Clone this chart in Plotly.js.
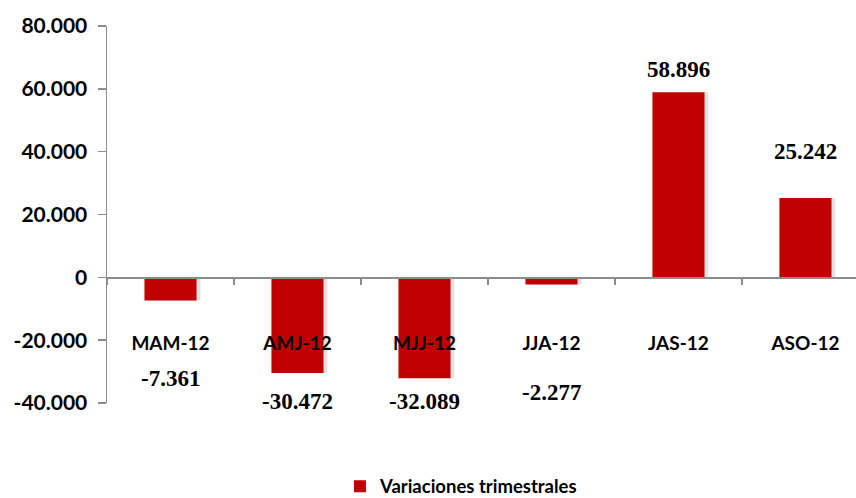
<!DOCTYPE html>
<html>
<head>
<meta charset="utf-8">
<script src="https://cdn.plot.ly/plotly-3.0.1.min.js"></script>
<style>html,body{margin:0;padding:0;background:#fff}#chart{width:856px;height:498px}</style>
</head>
<body>
<div id="chart"></div>
<script>
// ---- data ----
const categories = ["MAM-12", "AMJ-12", "MJJ-12", "JJA-12", "JAS-12", "ASO-12"];
const values = [-7361, -30472, -32089, -2277, 58896, 25242];
const seriesName = "Variaciones trimestrales";
const yTickVals = [-40000, -20000, 0, 20000, 40000, 60000, 80000];
const yTickText = ["-40.000", "-20.000", "0", "20.000", "40.000", "60.000", "80.000"];
// label placement (data units on the y axis) for the value labels
const labelY = [-32050, -39600, -39600, -36510, 66300, 40200];

function fmt(v) {
  const s = Math.abs(v).toString().replace(/\B(?=(\d{3})+(?!\d))/g, ".");
  return (v < 0 ? "-" : "") + s;
}

const barWidth = 0.41;
const shadow = {
  type: "bar", x: categories, y: values, width: barWidth, offset: -barWidth / 2 + 0.03,
  marker: {color: "rgba(120,120,120,0.22)"}, showlegend: false, hoverinfo: "skip"
};
const main = {
  type: "bar", x: categories, y: values, name: seriesName, width: barWidth,
  offset: -barWidth / 2, marker: {color: "#C00000"}
};

const sans = "Lato, 'Open Sans', sans-serif";
const annotations = categories.map((c, i) => ({
  x: c, y: labelY[i], xref: "x", yref: "y", text: fmt(values[i]), showarrow: false,
  font: {family: "'Liberation Serif', 'Times New Roman', serif", size: 23, color: "#000", weight: "bold"}
}));

const layout = {
  width: 856, height: 498,
  margin: {l: 107, r: 0, t: 26, b: 95, autoexpand: false},
  paper_bgcolor: "#fff", plot_bgcolor: "#fff",
  barmode: "overlay",
  showlegend: true,
  legend: {orientation: "h", x: 0.311, xanchor: "left", y: -0.222, yanchor: "middle",
           bgcolor: "rgba(0,0,0,0)",
           font: {family: sans, size: 18.5, color: "#000", weight: "bold"}},
  xaxis: {
    type: "category", range: [-0.5, 5.398], anchor: "free", position: 1/3,
    showline: true, linecolor: "#8c8c8c", linewidth: 1.5,
    ticks: "outside", tickson: "boundaries", ticklen: 6, tickcolor: "#8c8c8c", tickwidth: 1.5,
    ticklabelstandoff: 48, showgrid: false, zeroline: false,
    tickfont: {family: sans, size: 19, color: "#000", weight: "bold"}
  },
  yaxis: {
    range: [-40000, 80000], tickvals: yTickVals, ticktext: yTickText,
    showline: true, linecolor: "#8c8c8c", linewidth: 1.5,
    ticks: "outside", ticklen: 8, tickcolor: "#8c8c8c", tickwidth: 1.5,
    ticklabelstandoff: 6, showgrid: false, zeroline: false,
    tickfont: {family: sans, size: 21, color: "#000", weight: "bold"}
  },
  annotations: annotations
};

Plotly.newPlot("chart", [shadow, main], layout, {displayModeBar: false, staticPlot: true});
</script>
</body>
</html>
